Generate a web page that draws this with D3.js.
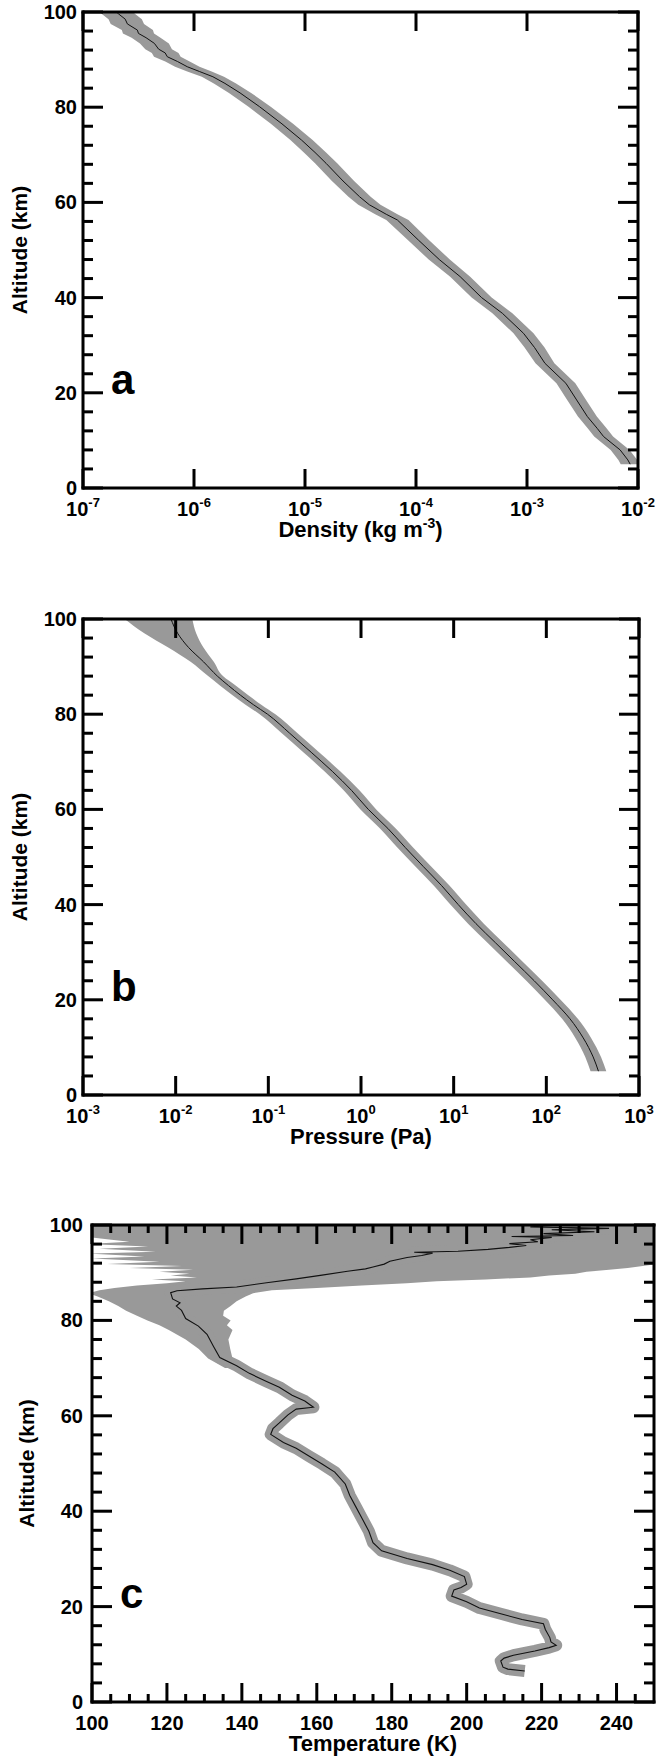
<!DOCTYPE html>
<html>
<head>
<meta charset="utf-8">
<script src="https://cdn.jsdelivr.net/npm/d3@7"></script>
<style>
  body { margin: 0; background: #fff; overflow: hidden; }
  svg { display: block; }
  svg text { font-family: "Liberation Sans", Arial, Helvetica, sans-serif; font-weight: bold; fill: #000; }
</style>
</head>
<body>
<div id="chart"></div>
<script>
// ---- data ----

// panel a: density (kg m^-3) vs altitude (km), band half-width in decades
const altDensity = [100, 99.6, 98.5, 97.5, 96.2, 95.5, 94.6, 93.4, 92.2, 91.4, 90.6, 89.6, 88.5, 87.5, 86.4, 85.0,
  83.0, 80.1, 76.5, 73.1, 70.5, 68.2, 64.5, 61.2, 59.5, 57.5, 56.3, 52.1, 48.0, 44.4, 40.0, 36.7, 32.5, 29.5,
  26.2, 22.0, 18.5, 15.0, 12.5, 10.8, 8.0, 5.9, 5.0];
const density = [2.0e-7, 2.09e-7, 2.4e-7, 2.51e-7, 3.09e-7, 3.16e-7, 3.7e-7, 4.4e-7, 4.8e-7, 5.5e-7, 5.75e-7, 7.1e-7,
  8.7e-7, 1.12e-6, 1.48e-6, 1.9e-6, 2.6e-6, 3.9e-6, 6.2e-6, 9.3e-6, 1.23e-5, 1.55e-5, 2.2e-5, 3.1e-5, 3.8e-5,
  5.4e-5, 6.8e-5, 1.05e-4, 1.62e-4, 2.5e-4, 3.9e-4, 6.0e-4, 9.3e-4, 1.17e-3, 1.45e-3, 2.24e-3, 2.8e-3, 3.5e-3,
  4.3e-3, 4.9e-3, 6.9e-3, 8.1e-3, 8.5e-3];
const densityErr = [0.15, 0.15, 0.15, 0.15, 0.14, 0.14, 0.13, 0.13, 0.12, 0.12, 0.12, 0.11, 0.11, 0.11, 0.10, 0.10,
  0.10, 0.10, 0.10, 0.10, 0.10, 0.10, 0.10, 0.10, 0.10, 0.10, 0.10, 0.095, 0.095, 0.09, 0.09, 0.09, 0.09, 0.09,
  0.085, 0.085, 0.085, 0.085, 0.085, 0.085, 0.085, 0.085, 0.085];

// panel b: pressure (Pa) vs altitude (km), band widths in decades
const altPressure = [100, 97, 94, 91, 88, 86, 84, 82, 80, 76, 72, 68, 64, 60, 56, 52, 48, 44, 40, 36, 32, 28, 24,
  20, 16, 12, 8, 5];
const pressure = [0.0089, 0.0105, 0.0138, 0.020, 0.0282, 0.0372, 0.050, 0.069, 0.098, 0.17, 0.29, 0.49, 0.79,
  1.2, 1.95, 3.0, 4.7, 7.4, 11.2, 17.4, 28.2, 45.7, 74, 117, 180, 250, 320, 365];
const pressureErrLo = [0.50, 0.36, 0.22, 0.14, 0.10, 0.09, 0.085, 0.085, 0.085, 0.085, 0.085, 0.085, 0.085, 0.085,
  0.085, 0.085, 0.085, 0.085, 0.085, 0.085, 0.085, 0.085, 0.085, 0.085, 0.085, 0.085, 0.085, 0.085];
const pressureErrHi = [0.23, 0.20, 0.16, 0.11, 0.06, 0.08, 0.085, 0.085, 0.085, 0.085, 0.085, 0.085, 0.085, 0.085,
  0.085, 0.085, 0.085, 0.085, 0.085, 0.085, 0.085, 0.085, 0.085, 0.085, 0.085, 0.085, 0.085, 0.085];

// panel c: temperature (K) vs altitude (km)
const altTemp = [6.5, 6.9, 7.3, 8.6, 9.2, 9.8, 10.7, 11.4, 11.9, 12.6, 13.5, 15.2, 16.4, 17.3, 18.5, 19.7, 21.0,
  22.2, 23.5, 24.0, 24.7, 26.3, 27.6, 28.8, 30.1, 31.7, 33.4, 35.8, 38.3, 40.8, 43.3, 45.7, 48.2, 49.9, 51.5, 53.2,
  54.4, 56.1, 57.3, 58.5, 60.2, 61.4, 61.8, 63.1, 64.3, 66.0, 67.2, 68.9, 70.5, 72.2, 74.6, 77.1, 78.8, 80.4, 82.1,
  83.0, 83.7, 84.5, 85.8, 86.2, 86.6, 87.0, 87.9, 88.7, 89.5, 90.3, 90.8, 91.2, 91.8, 92.4, 93.2, 93.6, 94.1,
  94.3, 94.5, 94.9, 95.3, 95.7, 96.1, 96.5, 96.9, 97.4, 97.6, 97.8, 98.2, 98.6, 99.0, 99.3, 99.6, 100];
const temperature = [215.5, 211, 209.7, 209.1, 210, 212.5, 218.2, 222, 223.9, 222.5, 222.2, 221.0, 220.5, 214.8,
  209.1, 203.4, 200.0, 196.0, 196.6, 198.5, 200.0, 199.4, 195.5, 190.9, 184.1, 177.3, 175.0, 173.9, 172.2, 170.5,
  168.8, 167.6, 164.8, 161.4, 158.0, 154.5, 151.1, 147.7, 148.3, 150.0, 152.3, 154.5, 159.1, 156.8, 153.4, 150.0,
  146.6, 142.0, 138.6, 134.1, 132.4, 130.7, 128.4, 125.0, 123.9, 122.5, 123.5, 121.5, 121.0, 122.7, 129.5, 138.6,
  146.6, 154.5, 161.4, 168.2, 173, 175.0, 178, 179.5, 184.1, 188, 190.9, 186, 197.7, 205.7, 211.4, 215.9, 211.4,
  219, 217.0, 222.7, 212, 228.4, 220.5, 234.1, 222.7, 238, 217, 225];

// wide uncertainty region of panel c above the mesopause
const bandAltTemp = [70, 72, 74, 76, 78, 79, 80, 81, 82, 83, 84, 85, 85.7, 86.3, 86.8, 87.3, 87.8, 88.2, 88.6,
  89.0, 89.4, 89.8, 90.2, 90.6, 91.0, 91.4, 91.8, 92.3, 93.0, 93.4, 94.0, 94.4, 95.0, 95.5, 96.0, 96.5, 97.0,
  97.5, 100];
const bandTempLo = [135.5, 131, 128.5, 125, 120.5, 118, 114.8, 112, 109.1, 107, 104.5, 101.5, 99, 102, 106, 112,
  120, 125, 116, 128, 121, 126, 118, 127, 110, 124, 104, 118, 100, 114, 99, 117, 102, 115, 99, 110, 104, 99, 99];
const bandTempHi = [141.5, 137.5, 136.9, 136.4, 137.5, 136, 137, 135, 135.2, 137, 138.6, 141, 143, 148, 160, 172,
  184, 192, 205, 217, 222, 229, 232, 238, 243, 247, 251, 262, 262, 262, 262, 262, 262, 262, 262, 262, 262, 262, 262];

// tick values
const altTicks = [0, 20, 40, 60, 80, 100];
const densityTicks = [1e-7, 1e-6, 1e-5, 1e-4, 1e-3, 1e-2];
const pressureTicks = [1e-3, 1e-2, 1e-1, 1e0, 1e1, 1e2, 1e3];
const tempTicks = [100, 120, 140, 160, 180, 200, 220, 240];

const BAND = "#999999";
const LW = 3; // frame and tick thickness

const svg = d3.select("#chart").append("svg")
  .attr("width", 657)
  .attr("height", 1758);

// label like 10^-3
function powerLabel(sel, v) {
  const e = Math.round(Math.log10(v));
  sel.append("tspan").text("10");
  sel.append("tspan").attr("dy", -9).style("font-size", "13px").text(e);
}

function drawPanel(p) {
  const x = p.x.range([p.left, p.right]);
  const y = d3.scaleLinear().domain([0, 100]).range([p.bottom, p.top]);
  const g = svg.append("g");

  g.append("clipPath").attr("id", "clip-" + p.id)
    .append("rect")
      .attr("x", p.left).attr("y", p.top)
      .attr("width", p.right - p.left).attr("height", p.bottom - p.top);

  const plot = g.append("g").attr("clip-path", "url(#clip-" + p.id + ")");
  p.drawData(plot, x, y);

  // frame and inward ticks, as filled bars
  const h = LW / 2;
  const bars = [
    { x: p.left - h, y: p.top - h, w: p.right - p.left + LW, h: LW },
    { x: p.left - h, y: p.bottom - h, w: p.right - p.left + LW, h: LW },
    { x: p.left - h, y: p.top - h, w: LW, h: p.bottom - p.top + LW },
    { x: p.right - h, y: p.top - h, w: LW, h: p.bottom - p.top + LW }
  ];
  const yTick = (v, len) => {
    bars.push({ x: p.left, y: y(v) - h, w: len, h: LW });
    bars.push({ x: p.right - len, y: y(v) - h, w: len, h: LW });
  };
  const xTick = (v, len) => {
    bars.push({ x: x(v) - h, y: p.bottom - len, w: LW, h: len });
    bars.push({ x: x(v) - h, y: p.top, w: LW, h: len });
  };
  altTicks.forEach(v => yTick(v, 20));
  d3.range(4, 100, 4).filter(v => v % 20 !== 0).forEach(v => yTick(v, 10));
  p.xTicks.forEach(v => xTick(v, 19));
  (p.xMinor || []).forEach(v => xTick(v, 8));

  g.append("g")
    .selectAll("rect")
    .data(bars)
    .enter().append("rect")
      .attr("x", b => b.x).attr("y", b => b.y)
      .attr("width", b => b.w).attr("height", b => b.h)
      .attr("fill", "#000");

  // y tick labels
  g.selectAll(".ylab")
    .data(altTicks)
    .enter().append("text")
      .attr("x", p.left - p.yLabelGap)
      .attr("y", v => y(v) + 7)
      .attr("text-anchor", "end")
      .style("font-size", "20px")
      .text(v => v);

  // x tick labels
  g.selectAll(".xlab")
    .data(p.xTicks)
    .enter().append("text")
      .attr("x", v => x(v))
      .attr("y", p.bottom + 28)
      .attr("text-anchor", "middle")
      .style("font-size", "20px")
      .each(function (v) {
        if (p.log) powerLabel(d3.select(this), v);
        else d3.select(this).text(v);
      });

  // axis titles
  const xt = g.append("text")
    .attr("x", (p.left + p.right) / 2)
    .attr("y", p.bottom + 49)
    .attr("text-anchor", "middle")
    .style("font-size", "22px");
  p.xTitle(xt);

  g.append("text")
    .attr("transform", `translate(${p.yTitleX},${(p.top + p.bottom) / 2}) rotate(-90)`)
    .attr("text-anchor", "middle")
    .style("font-size", "21px")
    .text("Altitude (km)");

  // panel letter
  g.append("text")
    .attr("x", p.left + 28)
    .attr("y", y(20) + 1)
    .style("font-size", "42px")
    .text(p.id);
}

// a: density
drawPanel({
  id: "a", left: 83, right: 638, top: 12, bottom: 488,
  x: d3.scaleLog().domain([1e-7, 1e-2]), log: true,
  xTicks: densityTicks, yLabelGap: 6, yTitleX: 27,
  xTitle: t => {
    t.append("tspan").text("Density (kg m");
    t.append("tspan").attr("dy", -9).style("font-size", "14px").text("-3");
    t.append("tspan").attr("dy", 9).text(")");
  },
  drawData: (plot, x, y) => {
    const idx = d3.range(altDensity.length);
    plot.append("path")
      .datum(idx)
      .attr("fill", BAND)
      .attr("d", d3.area()
        .y(i => y(altDensity[i]))
        .x0(i => x(density[i] / Math.pow(10, densityErr[i])))
        .x1(i => x(density[i] * Math.pow(10, densityErr[i]))));
    plot.append("path")
      .datum(idx)
      .attr("fill", "none")
      .attr("stroke", "#111")
      .attr("stroke-width", 1)
      .attr("d", d3.line().x(i => x(density[i])).y(i => y(altDensity[i])));
  }
});

// b: pressure
drawPanel({
  id: "b", left: 83, right: 639, top: 619, bottom: 1095,
  x: d3.scaleLog().domain([1e-3, 1e3]), log: true,
  xTicks: pressureTicks, yLabelGap: 6, yTitleX: 27,
  xTitle: t => t.text("Pressure (Pa)"),
  drawData: (plot, x, y) => {
    const idx = d3.range(altPressure.length);
    plot.append("path")
      .datum(idx)
      .attr("fill", BAND)
      .attr("d", d3.area()
        .curve(d3.curveMonotoneY)
        .y(i => y(altPressure[i]))
        .x0(i => x(pressure[i] / Math.pow(10, pressureErrLo[i])))
        .x1(i => x(pressure[i] * Math.pow(10, pressureErrHi[i]))));
    plot.append("path")
      .datum(idx)
      .attr("fill", "none")
      .attr("stroke", "#111")
      .attr("stroke-width", 1)
      .attr("d", d3.line().curve(d3.curveMonotoneY).x(i => x(pressure[i])).y(i => y(altPressure[i])));
  }
});

// c: temperature
drawPanel({
  id: "c", left: 92, right: 654, top: 1225, bottom: 1702,
  x: d3.scaleLinear().domain([100, 250]), log: false,
  xTicks: tempTicks,
  xMinor: d3.range(105, 250, 5).filter(v => (v - 100) % 20 !== 0),
  yLabelGap: 9, yTitleX: 34,
  xTitle: t => t.text("Temperature (K)"),
  drawData: (plot, x, y) => {
    const bi = d3.range(bandAltTemp.length);
    plot.append("path")
      .datum(bi)
      .attr("fill", BAND)
      .attr("d", d3.area()
        .y(i => y(bandAltTemp[i]))
        .x0(i => x(bandTempLo[i]))
        .x1(i => x(bandTempHi[i])));
    const idx = d3.range(altTemp.length);
    const line = d3.line().x(i => x(temperature[i])).y(i => y(altTemp[i]));
    // measurement spread drawn as a wide grey trace under the profile
    plot.append("path")
      .datum(idx)
      .attr("fill", "none")
      .attr("stroke", BAND)
      .attr("stroke-width", 12)
      .attr("stroke-linejoin", "round")
      .attr("d", line);
    plot.append("path")
      .datum(idx)
      .attr("fill", "none")
      .attr("stroke", "#111")
      .attr("stroke-width", 1.1)
      .attr("d", line);
  }
});
</script>
</body>
</html>
